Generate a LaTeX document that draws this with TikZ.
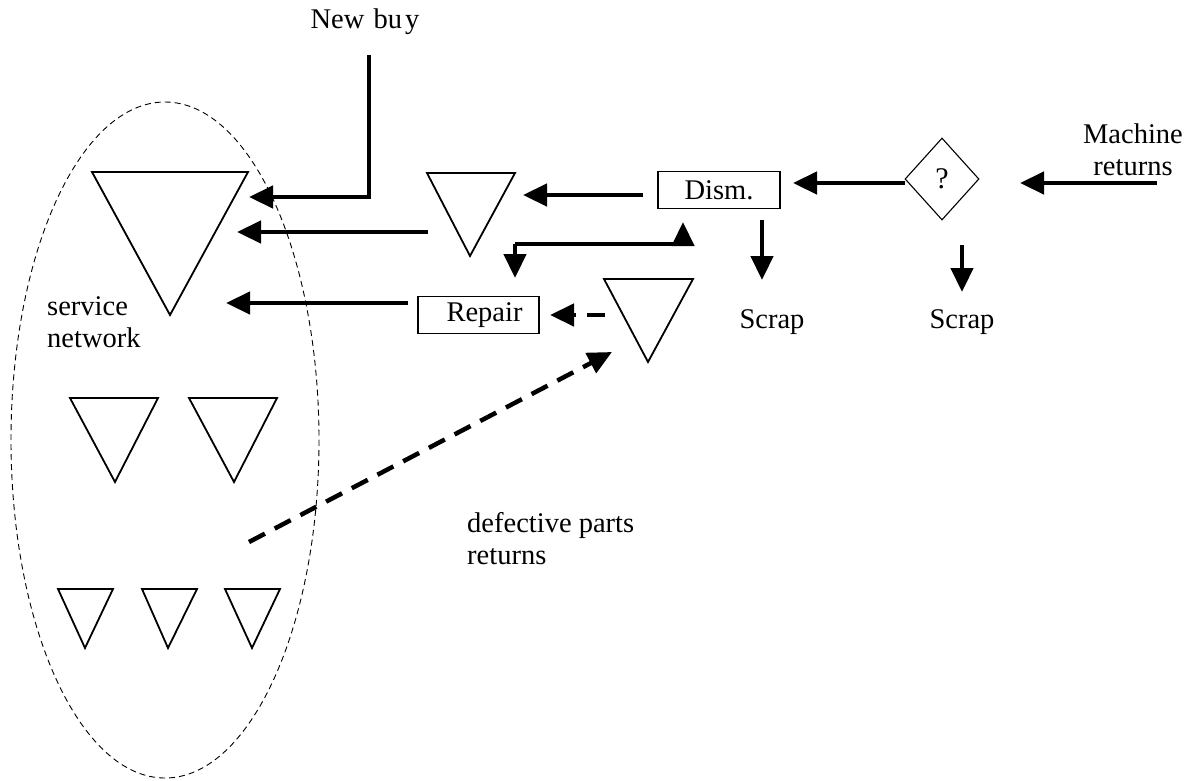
\documentclass[tikz,border=0pt]{standalone}
\usepackage{fontspec}
\setmainfont{Liberation Serif}
\usetikzlibrary{arrows.meta,shapes.geometric}
\begin{document}
\begin{tikzpicture}[x=1pt,y=-1pt,
  lbl/.style={font=\fontsize{28.5}{32}\selectfont, inner sep=0pt},
  flow/.style={line width=4.5pt,-{Triangle[length=24pt,width=22pt]}},
  dflow/.style={flow, dash pattern=on 18pt off 11pt},
  tri/.style={line width=1.8pt, line join=miter},
  boxn/.style={draw, line width=1.1pt, minimum width=#1, minimum height=37pt, inner sep=0pt, font=\fontsize{28.5}{32}\selectfont},
  region/.style={draw, line width=0.9pt, dash pattern=on 6pt off 4pt}
]
\useasboundingbox (0,0) rectangle (1197,780);
% service network region
\draw[region] (165,440) ellipse [x radius=154, y radius=338];
% triangles (stocks)
\draw[tri] (92,172) -- (248,172) -- (170,315) -- cycle;
\draw[tri] (427,173) -- (515,173) -- (470,256) -- cycle;
\draw[tri] (604,279) -- (693,279) -- (648,362) -- cycle;
\draw[tri] (70,398) -- (158,398) -- (115,482) -- cycle;
\draw[tri] (189,398) -- (277,398) -- (234,482) -- cycle;
\draw[tri] (58,589) -- (113,589) -- (85,648) -- cycle;
\draw[tri] (142,589) -- (197,589) -- (168,648) -- cycle;
\draw[tri] (225,589) -- (280,589) -- (252,648) -- cycle;
% labels
\node[lbl] (newbuy) at (365,22) {New\kern2pt{} bu\kern3pt y};
\node[lbl, align=left, anchor=west] (svc) at (47,322) {service\\network};
\node[lbl, align=center] (mach) at (1133,150) {Machine\\returns};
\node[lbl] (scrap1) at (772,322) {Scrap};
\node[lbl] (scrap2) at (962,322) {Scrap};
\node[lbl, align=left, anchor=west] (defect) at (467,539) {defective parts\\returns};
\node[boxn=122pt] (dism) at (719,190) {Dism.};
\node[boxn=121pt] (repair) at (478.5,315) {\hspace*{12pt}Repair};
\node[draw, diamond, aspect=0.9, line width=1.1pt, minimum width=74pt, minimum height=82pt, inner sep=0pt] (q) at (942,179) {\fontsize{30}{34}\selectfont ?};
% coordinates
\coordinate (nb0) at (369,55);
\coordinate (nb1) at (369,197);
\coordinate (in1) at (249,197);
\coordinate (m0) at (428,232);
\coordinate (in2) at (237,232);
\coordinate (r0) at (408,303);
\coordinate (in3) at (226,303);
\coordinate (d0) at (643,195);
\coordinate (mtri) at (523,195);
\coordinate (q0) at (905,183);
\coordinate (dtipR) at (793,183);
\coordinate (dtip) at (683,222);
\coordinate (bend1) at (683,244);
\coordinate (bend2) at (515,244);
\coordinate (rtip) at (515,278);
\coordinate (lt) at (605,315);
\coordinate (rtipR) at (550,315);
\coordinate (s1a) at (762,220);
\coordinate (s1b) at (762,280);
\coordinate (s2a) at (962,245);
\coordinate (s2b) at (962,292);
\coordinate (mr) at (1157,183);
\coordinate (qtip) at (1020,183);
\coordinate (dr) at (249,542);
\coordinate (dtri) at (612,352);
% connectors
\draw[flow] (nb0) -- (nb1) -- (in1);
\draw[flow] (m0) -- (in2);
\draw[flow] (r0) -- (in3);
\draw[flow] (d0) -- (mtri);
\draw[flow] (q0) -- (dtipR);
\draw[flow] (mr) -- (qtip);
\draw[flow] (bend2) -- (rtip);
\draw[flow] (bend2) -- (bend1) -- (dtip);
\draw[flow] (s1a) -- (s1b);
\draw[flow] (s2a) -- (s2b);
\draw[dflow] (lt) -- (rtipR);
\draw[dflow] (dr) -- (dtri);
\end{tikzpicture}
\end{document}
